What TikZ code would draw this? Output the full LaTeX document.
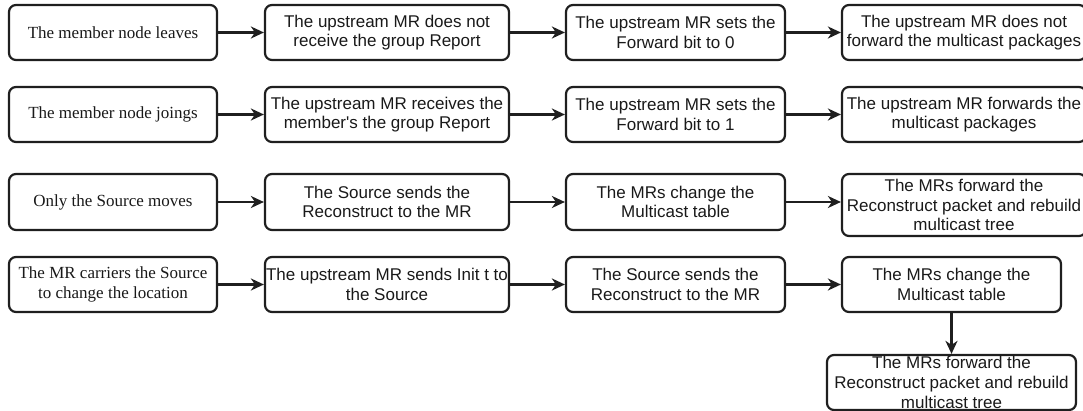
\documentclass[tikz,border=0pt]{standalone}
\usepackage{fontspec}
\setmainfont{Liberation Serif}
\newfontfamily\arialfont{Liberation Sans}
\usetikzlibrary{arrows.meta}

% a rounded box given by its corners (x1,y1)-(x2,y2), in pixel units
\newcommand{\flowbox}[7]{%
  \node[#6, minimum width={#4-#2}, minimum height={#5-#3}]
    (#1) at ({(#2+#4)/2},{(#3+#5)/2}) {#7};}

\tikzset{
  basebox/.style={draw=black!88, line width=2.2pt, rounded corners=7pt,
    inner sep=0pt, align=center, text=black!90},
  serifbox/.style={basebox, font=\fontsize{17}{19.6}\selectfont},
  sansbox/.style={basebox, font=\arialfont\fontsize{17}{19.6}\selectfont},
  flow/.style={draw=black!88, line width=2.2pt,
    -{Stealth[length=13pt, width=12pt, inset=4pt]}}
}

\begin{document}
\begin{tikzpicture}[x=1pt, y=-1pt]
  \useasboundingbox (0,0) rectangle (1083,411);

  % row 1: member leaves
  \flowbox{a1}{9}{5}{217}{60}{serifbox}{The member node leaves}
  \flowbox{a2}{265}{5}{509}{60}{sansbox}{The upstream MR does not\\receive the group Report}
  \flowbox{a3}{566}{5}{785}{60}{sansbox}{The upstream MR sets the\\Forward bit to 0}
  \flowbox{a4}{842}{5}{1086}{60}{sansbox}{The upstream MR does not\\forward the multicast packages}

  % row 2: member joins
  \flowbox{b1}{9}{87}{217}{142}{serifbox}{The member node joings}
  \flowbox{b2}{265}{87}{509}{142}{sansbox}{The upstream MR receives the\\member's the group Report}
  \flowbox{b3}{566}{87}{785}{142}{sansbox}{The upstream MR sets the\\Forward bit to 1}
  \flowbox{b4}{842}{87}{1086}{142}{sansbox}{The upstream MR forwards the\\multicast packages}

  % row 3: source moves
  \flowbox{c1}{9}{174}{217}{230}{serifbox}{Only the Source moves}
  \flowbox{c2}{265}{174}{509}{230}{sansbox}{The Source sends the\\Reconstruct to the MR}
  \flowbox{c3}{566}{174}{785}{230}{sansbox}{The MRs change the\\Multicast table}
  \flowbox{c4}{842}{174}{1086}{236}{sansbox}{The MRs forward the\\Reconstruct packet and rebuild\\multicast tree}

  % row 4: MR carries the source
  \flowbox{d1}{9}{257}{217}{312}{serifbox}{The MR carriers the Source\\to change the location}
  \flowbox{d2}{265}{257}{509}{312}{sansbox}{The upstream MR sends Init t to\\the Source}
  \flowbox{d3}{566}{257}{785}{312}{sansbox}{The Source sends the\\Reconstruct to the MR}
  \flowbox{d4}{842}{257}{1061}{312}{sansbox}{The MRs change the\\Multicast table}
  \flowbox{e4}{827}{355}{1076}{410}{sansbox}{The MRs forward the\\Reconstruct packet and rebuild\\multicast tree}

  % connectors
  \foreach \r in {a,b,d}{
    \draw[flow] (\r1) -- (\r2);
    \draw[flow] (\r2) -- (\r3);
    \draw[flow] (\r3) -- (\r4);
  }
  \draw[flow] (c1) -- (c2);
  \draw[flow] (c2) -- (c3);
  \draw[flow] (c3.east) -- (c3.east -| c4.west);
  \draw[flow] (d4) -- (e4);
\end{tikzpicture}
\end{document}
